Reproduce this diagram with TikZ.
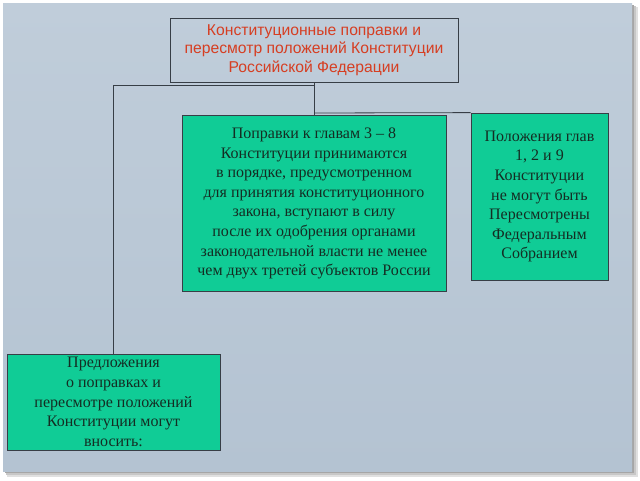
\documentclass[tikz,border=0pt]{standalone}
\usepackage{fontspec}
\setmainfont{Liberation Serif}
\newfontfamily\arialfont{Liberation Sans}
\begin{document}
\begin{tikzpicture}[x=1pt,y=-1pt]
\definecolor{slidebg}{RGB}{180,195,210}
\definecolor{slidetop}{RGB}{192,205,218}
\definecolor{boxgreen}{RGB}{16,204,150}
\definecolor{titlered}{RGB}{214,62,34}
\definecolor{edgegray}{RGB}{55,62,70}
\definecolor{boxtext}{RGB}{20,45,35}
\tikzset{
  greenbox/.style={draw=edgegray, line width=0.8pt, fill=boxgreen, align=center,
    inner sep=0pt, font=\fontsize{16}{19.6}\selectfont, text=boxtext},
  titlebox/.style={draw=edgegray, line width=0.8pt, align=center, inner sep=0pt,
    font=\arialfont\fontsize{15.7}{18.5}\selectfont, text=titlered},
  link/.style={draw=edgegray, line width=0.8pt}
}
\useasboundingbox (0,0) rectangle (640,480);
\fill[white] (0,0) rectangle (640,480);
% shadow
\fill[black!12] (7,7) rectangle (638,477);
\fill[black!22] (6,6) rectangle (636,475);
\fill[black!35] (5,5) rectangle (634,473);
% slide
\shade[top color=slidetop, bottom color=slidebg] (3,3) rectangle (632,471);
% boxes
\node[titlebox, minimum width=288pt, minimum height=64pt] (top) at (314,50)
  {Конституционные поправки и\\пересмотр положений Конституции\\Российской Федерации};
\node[greenbox, minimum width=264pt, minimum height=176pt] (mid) at (314,203.5)
  {Поправки к главам 3 – 8\\Конституции принимаются\\в порядке, предусмотренном\\для принятия конституционного\\закона, вступают в силу\\после их одобрения органами\\законодательной власти не менее\\чем двух третей субъектов России};
\node[greenbox, minimum width=137pt, minimum height=167pt] (right) at (539.5,196.5)
  {Положения глав\\1, 2 и 9\\Конституции\\ не могут быть\\Пересмотрены\\Федеральным\\Собранием};
\node[greenbox, minimum width=213pt, minimum height=96pt] (bot) at (113.5,402)
  {Предложения\\о поправках и\\пересмотре положений\\ Конституции могут\\вносить:};
% connectors
\coordinate (j1) at (314,85);
\coordinate (j2) at (314,113);
\coordinate (jl) at (113.5,85);
\draw[link] (top.south) -- (mid.north);
\draw[link] (j1) -- (jl) -- (bot.north);
\draw[link] (j2) -- (right.north west);
\end{tikzpicture}
\end{document}
